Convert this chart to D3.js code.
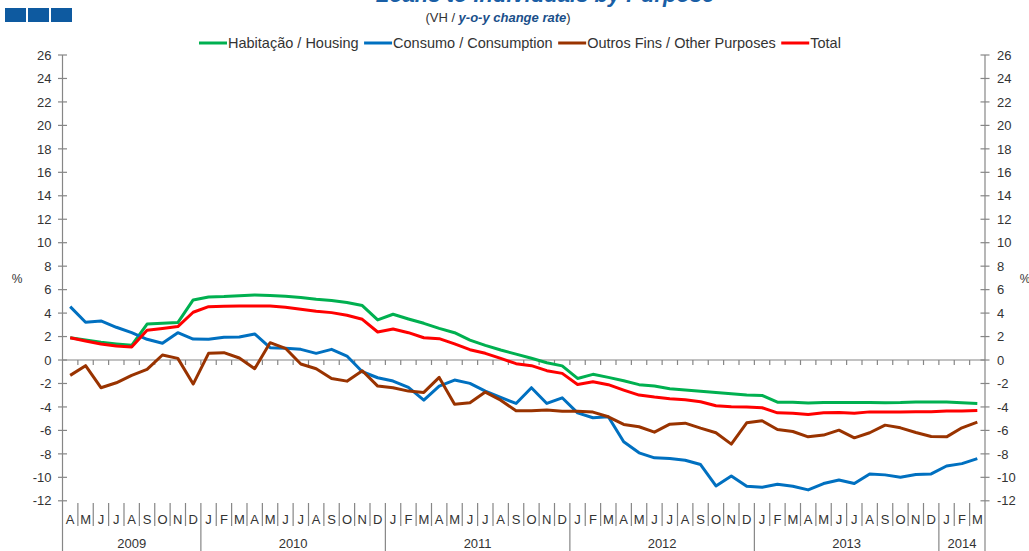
<!DOCTYPE html>
<html><head><meta charset="utf-8">
<script src="https://cdn.jsdelivr.net/npm/d3@7"></script>
<style>
body{margin:0;background:#fff}
svg{display:block;font-family:"Liberation Sans",Arial,sans-serif}
</style>
</head><body>
<svg id="chart" width="1029" height="551"></svg>
<script>
// ---- data ----
const monthLabels = ["A","M","J","J","A","S","O","N","D",
  "J","F","M","A","M","J","J","A","S","O","N","D",
  "J","F","M","A","M","J","J","A","S","O","N","D",
  "J","F","M","A","M","J","J","A","S","O","N","D",
  "J","F","M","A","M","J","J","A","S","O","N","D",
  "J","F","M"];
const yearLabels = ["2009","2010","2011","2012","2013","2014"];
const yearStart = [0, 9, 21, 33, 45, 57];
const yearEnd = [9, 21, 33, 45, 57, 60];
const seriesNames = ["Habitação / Housing","Consumo / Consumption","Outros Fins / Other Purposes","Total"];
const seriesColors = ["#00b050","#0070c0","#993300","#ff0000"];
const housing = [1.9,1.71,1.51,1.37,1.25,3.07,3.13,3.19,5.12,5.38,
  5.41,5.47,5.55,5.5,5.44,5.33,5.18,5.07,4.9,4.64,
  3.42,3.9,3.5,3.13,2.7,2.33,1.7,1.25,0.85,0.5,
  0.15,-0.23,-0.5,-1.57,-1.22,-1.48,-1.77,-2.1,-2.22,-2.45,
  -2.56,-2.67,-2.77,-2.87,-2.99,-3.02,-3.59,-3.59,-3.67,-3.62,
  -3.62,-3.62,-3.62,-3.64,-3.62,-3.57,-3.57,-3.57,-3.64,-3.7];
const consumption = [4.55,3.22,3.33,2.79,2.33,1.77,1.43,2.33,1.79,1.77,
  1.94,1.97,2.22,1.05,1.0,0.91,0.57,0.91,0.34,-1.0,
  -1.51,-1.79,-2.33,-3.42,-2.22,-1.71,-1.99,-2.65,-3.19,-3.7,
  -2.36,-3.7,-3.22,-4.5,-4.92,-4.84,-6.97,-7.91,-8.34,-8.4,
  -8.54,-8.91,-10.73,-9.88,-10.76,-10.85,-10.59,-10.76,-11.07,-10.53,
  -10.22,-10.53,-9.71,-9.79,-9.99,-9.76,-9.71,-9.03,-8.83,-8.4];
const otherPurposes = [-1.31,-0.48,-2.36,-1.94,-1.31,-0.8,0.43,0.14,-2.05,0.57,
  0.63,0.17,-0.74,1.48,1.0,-0.34,-0.74,-1.57,-1.8,-0.91,
  -2.22,-2.36,-2.65,-2.76,-1.48,-3.76,-3.64,-2.73,-3.42,-4.33,
  -4.33,-4.27,-4.36,-4.36,-4.44,-4.84,-5.49,-5.69,-6.15,-5.47,
  -5.38,-5.81,-6.2,-7.17,-5.35,-5.18,-5.92,-6.09,-6.55,-6.4,
  -5.98,-6.63,-6.2,-5.55,-5.78,-6.18,-6.52,-6.55,-5.78,-5.29];
const total = [1.9,1.62,1.37,1.2,1.11,2.53,2.68,2.85,4.07,4.55,
  4.58,4.6,4.6,4.6,4.5,4.33,4.16,4.04,3.81,3.47,
  2.39,2.65,2.33,1.9,1.82,1.37,0.88,0.57,0.14,-0.31,
  -0.48,-0.91,-1.14,-2.08,-1.85,-2.1,-2.56,-2.99,-3.16,-3.3,
  -3.39,-3.56,-3.9,-3.98,-4.0,-4.07,-4.5,-4.53,-4.64,-4.5,
  -4.47,-4.53,-4.42,-4.42,-4.42,-4.4,-4.4,-4.35,-4.35,-4.3];
const yTicks = d3.range(-12, 27, 2);
const titleText = "Loans to Individuals by Purpose";
const subtitlePlain = "(VH / ";
const subtitleBold = "y-o-y change rate";

// ---- layout ----
const svg = d3.select("#chart");
const left = 62.5, right = 985;
const x = d3.scaleBand().domain(d3.range(monthLabels.length)).range([left, right]).paddingInner(0).paddingOuter(0);
const y = d3.scaleLinear().domain([-12, 26]).range([500.8, 55]);
const axisColor = "#868686";
const textColor = "#333";
const fmt = d => String(d); // plain hyphen minus as in the reference

// Header
[0,1,2].forEach(i => {
  svg.append("rect").attr("x", 5 + i*23).attr("y", 8).attr("width", 21).attr("height", 14).attr("fill", "#0e5aa0");
});
svg.append("text").attr("x", 545).attr("y", 2).attr("text-anchor","middle")
  .attr("font-size", 22).attr("font-weight","bold").attr("font-style","italic").attr("fill","#1a5fa6").text(titleText);
const sub = svg.append("text").attr("x", 498).attr("y", 22).attr("text-anchor","middle").attr("font-size", 13).attr("fill", textColor);
sub.append("tspan").text(subtitlePlain);
sub.append("tspan").attr("font-weight","bold").attr("font-style","italic").attr("fill","#1a4f8a").text(subtitleBold);
sub.append("tspan").text(")");

// Legend
const legend = svg.append("g");
let lx = 199;
seriesNames.forEach((name, i) => {
  legend.append("line").attr("x1", lx).attr("x2", lx + 28).attr("y1", 43).attr("y2", 43)
    .attr("stroke", seriesColors[i]).attr("stroke-width", 3);
  const t = legend.append("text").attr("x", lx + 29).attr("y", 48).attr("font-size", 14.5).attr("fill", textColor).text(name);
  lx += 29 + t.node().getComputedTextLength() + 5.5;
});

// Y axes
const leftAxis = d3.axisLeft(y).tickValues(yTicks).tickFormat(fmt).tickSize(0).tickPadding(11);
const gL = svg.append("g").attr("transform", `translate(${left},0)`).call(leftAxis);
const rightAxis = d3.axisRight(y).tickValues(yTicks).tickFormat(fmt).tickSize(0).tickPadding(12);
const gR = svg.append("g").attr("transform", `translate(${right},0)`).call(rightAxis);
[gL, gR].forEach(g => {
  g.select(".domain").remove();
  g.selectAll("text").attr("font-size", 13).attr("fill", textColor).attr("font-family", '"Liberation Sans",Arial,sans-serif');
});
[left, right].forEach(ax => {
  svg.append("line").attr("x1", ax).attr("x2", ax).attr("y1", y(26)).attr("y2", 551).attr("stroke", axisColor).attr("stroke-width", 1.2);
  svg.selectAll(null).data(yTicks).enter().append("line")
    .attr("x1", ax - 4.5).attr("x2", ax + 4.5).attr("y1", d => y(d)).attr("y2", d => y(d))
    .attr("stroke", axisColor).attr("stroke-width", 1.2);
});
svg.append("text").attr("x", 17).attr("y", 283).attr("text-anchor","middle").attr("font-size", 12).attr("fill", textColor).text("%");
svg.append("text").attr("x", 1025).attr("y", 283).attr("text-anchor","middle").attr("font-size", 12).attr("fill", textColor).text("%");

// Zero line with downward ticks
svg.append("line").attr("x1", left).attr("x2", right).attr("y1", y(0)).attr("y2", y(0)).attr("stroke", axisColor).attr("stroke-width", 1.2);
svg.selectAll(null).data(d3.range(1, monthLabels.length)).enter().append("line")
  .attr("x1", d => x(d)).attr("x2", d => x(d)).attr("y1", y(0)).attr("y2", y(0) + 5)
  .attr("stroke", axisColor).attr("stroke-width", 1.2);

// Category axis at bottom
const isYearStart = new Set(yearStart);
svg.selectAll(null).data(d3.range(1, monthLabels.length)).enter().append("line")
  .attr("x1", d => x(d)).attr("x2", d => x(d)).attr("y1", 503).attr("y2", d => isYearStart.has(d) ? 551 : 526)
  .attr("stroke", axisColor).attr("stroke-width", 1.2);
svg.selectAll(null).data(monthLabels).enter().append("text")
  .attr("x", (d, i) => x(i) + x.bandwidth()/2).attr("y", 524).attr("text-anchor","middle")
  .attr("font-size", 13).attr("fill", textColor).text(d => d);
svg.selectAll(null).data(yearLabels).enter().append("text")
  .attr("x", (d, i) => (x(yearStart[i]) + (yearEnd[i] < monthLabels.length ? x(yearEnd[i]) : right)) / 2)
  .attr("y", 548).attr("text-anchor","middle").attr("font-size", 13).attr("fill", textColor).text(d => d);

// Series lines
const line = d3.line().x((d, i) => x(i) + x.bandwidth()/2).y(d => y(d));
[housing, consumption, otherPurposes, total].forEach((s, i) => {
  svg.append("path").datum(s).attr("d", line).attr("fill","none")
    .attr("stroke", seriesColors[i]).attr("stroke-width", 3).attr("stroke-linejoin","round");
});
</script>
</body></html>
